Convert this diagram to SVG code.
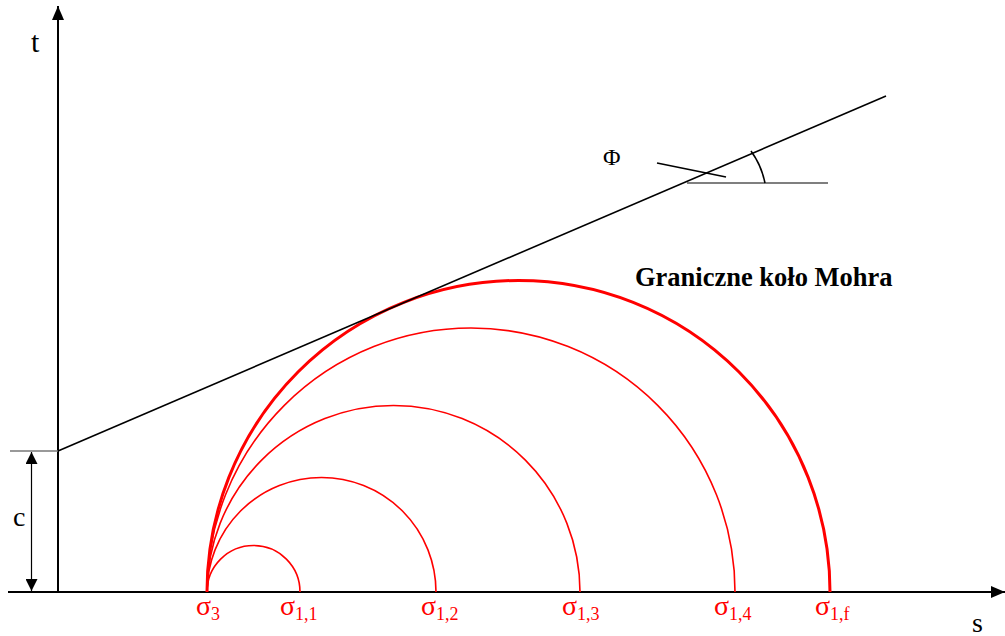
<svg xmlns="http://www.w3.org/2000/svg" width="1005" height="636" viewBox="0 0 1005 636">
<style>
.ax{stroke:#000;stroke-width:2;fill:none}
.ln{stroke:#000;stroke-width:1.6;fill:none}
.thin{stroke:#000;stroke-width:1.2;fill:none}
.c{stroke:#ff0000;stroke-width:1.6;fill:none}
.cf{stroke:#ff0000;stroke-width:3;fill:none}
.lab{font-family:"Liberation Serif","Times New Roman",serif;fill:#000}
.sig{font-family:"Liberation Serif","Times New Roman",serif;fill:#ff0000;font-size:28px}
.sub{font-size:18px}
</style>
<defs>
<marker id="ah" markerWidth="14" markerHeight="12" refX="14" refY="6" orient="auto" markerUnits="userSpaceOnUse">
<path d="M0,0 L14,6 L0,12 Z" fill="#000"/>
</marker>
<marker id="ahs" markerWidth="12" markerHeight="12" refX="12" refY="6" orient="auto-start-reverse" markerUnits="userSpaceOnUse">
<path d="M0,0 L12,6 L0,12 Z" fill="#000"/>
</marker>
</defs>
<g id="axes">
<line class="ax" x1="58" y1="593" x2="58" y2="6" marker-end="url(#ah)"/>
<line class="ax" x1="8" y1="592" x2="1005" y2="592" marker-end="url(#ah)"/>
<text class="lab" x="31" y="52" font-size="30">t</text>
<text class="lab" x="972" y="632" font-size="28">s</text>
</g>
<g id="cohesion">
<line x1="10" y1="451" x2="58" y2="451" stroke="#777" stroke-width="1.5"/>
<line class="thin" x1="31.5" y1="452" x2="31.5" y2="591" marker-start="url(#ahs)" marker-end="url(#ahs)"/>
<text class="lab" x="13" y="526" font-size="28">c</text>
</g>
<g id="circles">
<path class="c" d="M207,592 A46.5,46.5 0 0 1 300,592"/>
<path class="c" d="M207,592 A114.5,114.5 0 0 1 436,592"/>
<path class="c" d="M207,592 A186.5,186.5 0 0 1 580,592"/>
<path class="c" d="M207,592 A264,264 0 0 1 735,592"/>
<path class="cf" d="M207,592 A311.5,311.5 0 0 1 830,592"/>
</g>
<g id="envelope">
<line class="ln" x1="58" y1="451" x2="886" y2="96"/>
<line class="thin" x1="687" y1="183" x2="828" y2="183"/>
<path class="ln" d="M765,183 A82,82 0 0 0 751,151"/>
<line class="ln" x1="657" y1="163" x2="726" y2="177"/>
<text class="lab" x="603" y="165" font-size="24">Φ</text>
</g>
<g id="title">
<text class="lab" x="635" y="286" font-size="26.5" font-weight="bold">Graniczne koło Mohra</text>
</g>
<g id="labels">
<text class="sig" x="196" y="615">σ<tspan class="sub" dy="5">3</tspan></text>
<text class="sig" x="280" y="615">σ<tspan class="sub" dy="5">1,1</tspan></text>
<text class="sig" x="421" y="615">σ<tspan class="sub" dy="5">1,2</tspan></text>
<text class="sig" x="562" y="615">σ<tspan class="sub" dy="5">1,3</tspan></text>
<text class="sig" x="714" y="615">σ<tspan class="sub" dy="5">1,4</tspan></text>
<text class="sig" x="815" y="615">σ<tspan class="sub" dy="5">1,f</tspan></text>
</g>
</svg>
